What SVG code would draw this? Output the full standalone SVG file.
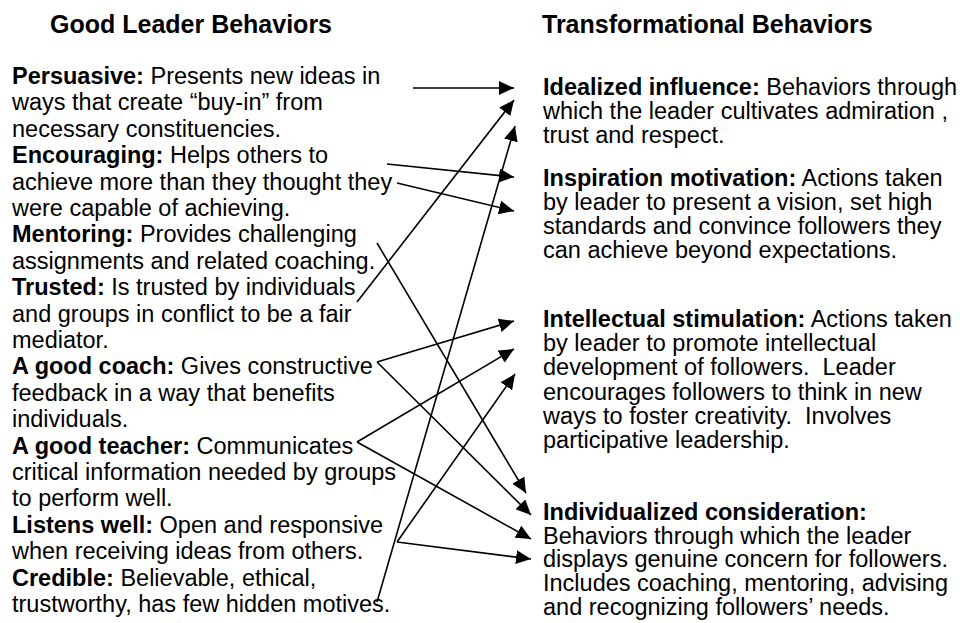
<svg xmlns="http://www.w3.org/2000/svg" width="960" height="623" viewBox="0 0 960 623">
<style>
text{font-family:"Liberation Sans",Arial,sans-serif;font-size:23.5px;fill:#000;white-space:pre}
.h{font-size:25px;font-weight:bold}
.b{font-weight:bold}
.c line{stroke:#000;stroke-width:1.6;fill:none;marker-end:url(#ah)}
</style>
<defs>
<marker id="ah" markerUnits="userSpaceOnUse" markerWidth="16" markerHeight="14" refX="15" refY="7" orient="auto"><path d="M0,0 L15,7 L0,14 z" fill="#000"/></marker>
</defs>
<rect width="960" height="623" fill="#fff"/>
<text class="h" x="50" y="33">Good Leader Behaviors</text>
<text class="h" x="542" y="33">Transformational Behaviors</text>
<g id="persuasive"><text x="12" y="84"><tspan class="b">Persuasive:</tspan> Presents new ideas in</text><text x="12" y="110.4">ways that create “buy-in” from</text><text x="12" y="136.8">necessary constituencies.</text></g>
<g id="encouraging"><text x="12" y="163.2"><tspan class="b">Encouraging:</tspan> Helps others to</text><text x="12" y="189.6">achieve more than they thought they</text><text x="12" y="216">were capable of achieving.</text></g>
<g id="mentoring"><text x="12" y="242.4"><tspan class="b">Mentoring:</tspan> Provides challenging</text><text x="12" y="268.8">assignments and related coaching.</text></g>
<g id="trusted"><text x="12" y="295.2"><tspan class="b">Trusted:</tspan> Is trusted by individuals</text><text x="12" y="321.6">and groups in conflict to be a fair</text><text x="12" y="348">mediator.</text></g>
<g id="coach"><text x="12" y="374.4"><tspan class="b">A good coach:</tspan> Gives constructive</text><text x="12" y="400.8">feedback in a way that benefits</text><text x="12" y="427.2">individuals.</text></g>
<g id="teacher"><text x="12" y="453.6"><tspan class="b">A good teacher:</tspan> Communicates</text><text x="12" y="480">critical information needed by groups</text><text x="12" y="506.4">to perform well.</text></g>
<g id="listens"><text x="12" y="532.8"><tspan class="b">Listens well:</tspan> Open and responsive</text><text x="12" y="559.2">when receiving ideas from others.</text></g>
<g id="credible"><text x="12" y="585.6"><tspan class="b">Credible:</tspan> Believable, ethical,</text><text x="12" y="612">trustworthy, has few hidden motives.</text></g>
<g id="idealized"><text x="543" y="95"><tspan class="b">Idealized influence:</tspan> Behaviors through</text><text x="543" y="119">which the leader cultivates admiration ,</text><text x="543" y="143">trust and respect.</text></g>
<g id="inspiration"><text x="543" y="186"><tspan class="b">Inspiration motivation:</tspan> Actions taken</text><text x="543" y="210">by leader to present a vision, set high</text><text x="543" y="234">standards and convince followers they</text><text x="543" y="258">can achieve beyond expectations.</text></g>
<g id="intellectual"><text x="543" y="327"><tspan class="b">Intellectual stimulation:</tspan> Actions taken</text><text x="543" y="351.2">by leader to promote intellectual</text><text x="543" y="375.4">development of followers.  Leader</text><text x="543" y="399.6">encourages followers to think in new</text><text x="543" y="423.8">ways to foster creativity.  Involves</text><text x="543" y="448">participative leadership.</text></g>
<g id="individualized"><text x="543" y="520" class="b">Individualized consideration:</text><text x="543" y="543.5">Behaviors through which the leader</text><text x="543" y="567">displays genuine concern for followers.</text><text x="543" y="590.5">Includes coaching, mentoring, advising</text><text x="543" y="615">and recognizing followers’ needs.</text></g>
<g id="connectors" class="c">
<line x1="413" y1="88" x2="514" y2="88"/>
<line x1="387" y1="164" x2="514" y2="177"/>
<line x1="397" y1="183" x2="514" y2="211"/>
<line x1="357" y1="302" x2="514" y2="100"/>
<line x1="377" y1="243" x2="526" y2="493"/>
<line x1="377" y1="362" x2="514" y2="321"/>
<line x1="377" y1="362" x2="531" y2="515"/>
<line x1="357" y1="442" x2="514" y2="349"/>
<line x1="357" y1="442" x2="531" y2="539"/>
<line x1="397" y1="542" x2="515" y2="374"/>
<line x1="397" y1="542" x2="531" y2="559"/>
<line x1="377" y1="602" x2="515" y2="126"/>
</g>
</svg>
